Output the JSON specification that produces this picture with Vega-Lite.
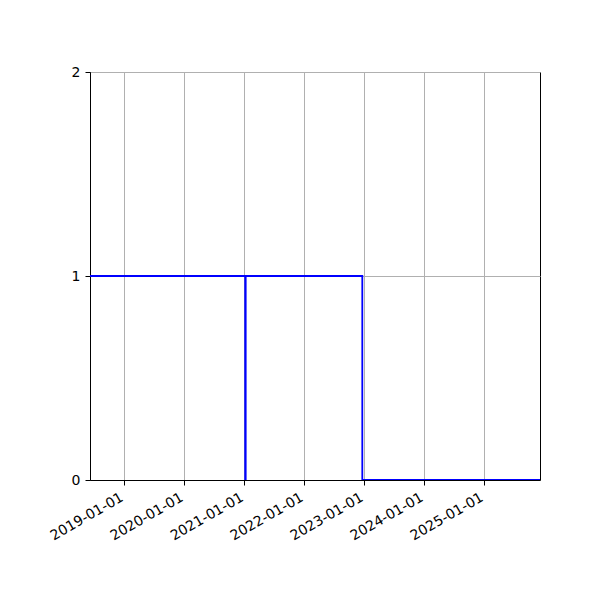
{
  "$schema": "https://vega.github.io/schema/vega-lite/v6.json",
  "width": 450,
  "height": 408,
  "autosize": {"type": "none"},
  "padding": {"left": 90, "top": 72, "right": 60, "bottom": 120},
  "background": "white",
  "data": {
    "values": [
      {"date": "2018-06-06", "value": 1},
      {"date": "2021-01-06", "value": 0},
      {"date": "2021-01-09", "value": 1},
      {"date": "2022-12-20", "value": 0},
      {"date": "2025-12-06", "value": 0}
    ]
  },
  "mark": {"type": "line", "interpolate": "step-after", "color": "#0000ff", "strokeWidth": 1.8, "clip": true},
  "encoding": {
    "x": {
      "field": "date",
      "type": "temporal",
      "title": null,
      "scale": {
        "type": "utc",
        "domain": [
          {"year": 2018, "month": 6, "date": 6, "utc": true},
          {"year": 2025, "month": 12, "date": 6, "utc": true}
        ],
        "nice": false
      },
      "axis": {
        "values": [
          {"year": 2019, "month": 1, "date": 1, "utc": true},
          {"year": 2020, "month": 1, "date": 1, "utc": true},
          {"year": 2021, "month": 1, "date": 1, "utc": true},
          {"year": 2022, "month": 1, "date": 1, "utc": true},
          {"year": 2023, "month": 1, "date": 1, "utc": true},
          {"year": 2024, "month": 1, "date": 1, "utc": true},
          {"year": 2025, "month": 1, "date": 1, "utc": true}
        ],
        "format": "%Y-%m-%d",
        "labelAngle": -30,
        "labelAlign": "right",
        "labelBaseline": "top",
        "labelPadding": 5,
        "labelOffset": -6
      }
    },
    "y": {
      "field": "value",
      "type": "quantitative",
      "title": null,
      "scale": {"domain": [0, 2], "nice": false},
      "axis": {"values": [0, 1, 2], "format": ".0f", "labelPadding": 5}
    }
  },
  "config": {
    "font": "DejaVu Sans",
    "view": {"stroke": "black", "strokeWidth": 1},
    "axis": {
      "grid": true,
      "gridColor": "#b0b0b0",
      "gridWidth": 1,
      "gridOpacity": 1,
      "domainColor": "black",
      "tickColor": "black",
      "tickSize": 5,
      "labelFontSize": 14,
      "labelColor": "black",
      "labelFont": "DejaVu Sans",
      "labelOverlap": false,
      "labelFlush": false
    }
  }
}
